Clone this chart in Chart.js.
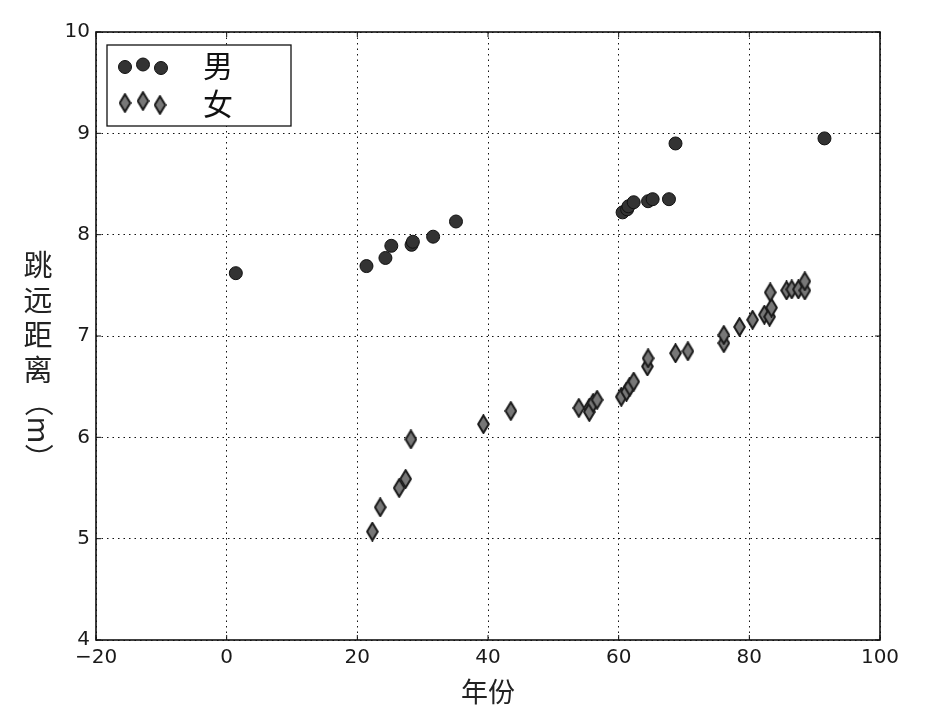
<!DOCTYPE html>
<html>
<head>
<meta charset="utf-8">
<script src="https://cdn.jsdelivr.net/npm/chart.js@4.4.1/dist/chart.umd.min.js"></script>
<style>
  body { margin: 0; background: #fff; }
  #wrap { width: 947px; height: 717px; }
</style>
</head>
<body>
<div id="wrap"><canvas id="chartScatter" width="947" height="717"></canvas></div>
<script>
// data
const menYear = [1.4, 21.4, 24.3, 25.2, 28.3, 28.5, 31.6, 35.1, 60.6, 61.3, 61.5, 62.3, 64.5, 65.2, 67.7, 68.7, 91.5];
const menDist = [7.62, 7.69, 7.77, 7.89, 7.90, 7.93, 7.98, 8.13, 8.22, 8.25, 8.28, 8.32, 8.33, 8.35, 8.35, 8.90, 8.95];

const womenYear = [22.3, 23.5, 26.4, 27.4, 28.2, 39.3, 43.5, 53.9, 55.5, 55.5, 56.1, 56.7, 60.4, 61.2, 61.7, 62.3,
    64.4, 64.5, 68.7, 70.6, 76.1, 76.1, 78.5, 80.5, 82.3, 83.1, 83.4, 83.2, 85.7, 86.5, 87.5, 88.5, 88.5];
const womenDist = [5.07, 5.31, 5.50, 5.59, 5.98, 6.13, 6.26, 6.29, 6.29, 6.25, 6.34, 6.37, 6.40, 6.45, 6.50, 6.55,
    6.70, 6.78, 6.83, 6.85, 6.93, 7.01, 7.09, 7.16, 7.21, 7.19, 7.28, 7.43, 7.45, 7.46, 7.46, 7.45, 7.54];

const xTicks = [-20, 0, 20, 40, 60, 80, 100];
const yTicks = [4, 5, 6, 7, 8, 9, 10];
const seriesNames = ['男', '女'];

const cjkFont = '"Noto Sans CJK SC"';

// thin diamond like matplotlib 'd'
function thinDiamond(w, h) {
    const c = document.createElement('canvas');
    c.width = w; c.height = h;
    const g = c.getContext('2d');
    g.beginPath();
    g.moveTo(w / 2, 1.2);
    g.lineTo(w - 1.2, h / 2);
    g.lineTo(w / 2, h - 1.2);
    g.lineTo(1.2, h / 2);
    g.closePath();
    g.fillStyle = '#777777';
    g.fill();
    g.lineWidth = 2;
    g.strokeStyle = '#1a1a1a';
    g.stroke();
    return c;
}
const diamondImg = thinDiamond(13, 20);

function toPoints(xs, ys) {
    return xs.map((x, i) => ({ x: x, y: ys[i] }));
}

// frame, inward ticks, axis titles and legend
const decor = {
    id: 'decor',
    afterDraw(chart) {
        const ctx = chart.ctx;
        const a = chart.chartArea;
        const sx = chart.scales.x, sy = chart.scales.y;
        ctx.save();
        ctx.strokeStyle = '#111';
        ctx.lineWidth = 1;
        ctx.setLineDash([]);
        xTicks.forEach(v => {
            const p = sx.getPixelForValue(v);
            ctx.beginPath();
            ctx.moveTo(p, a.bottom); ctx.lineTo(p, a.bottom - 5);
            ctx.moveTo(p, a.top); ctx.lineTo(p, a.top + 5);
            ctx.stroke();
        });
        yTicks.forEach(v => {
            const p = sy.getPixelForValue(v);
            ctx.beginPath();
            ctx.moveTo(a.left, p); ctx.lineTo(a.left + 5, p);
            ctx.moveTo(a.right, p); ctx.lineTo(a.right - 5, p);
            ctx.stroke();
        });
        ctx.lineWidth = 1.6;
        ctx.strokeRect(a.left, a.top, a.right - a.left, a.bottom - a.top);

        // x title
        ctx.fillStyle = '#222';
        ctx.font = '27px ' + cjkFont;
        ctx.textAlign = 'center';
        ctx.textBaseline = 'middle';
        ctx.fillText('年份', (a.left + a.right) / 2, 692);

        // y title: stacked characters then rotated (m)
        ctx.font = '29px ' + cjkFont;
        '跳远距离'.split('').forEach((ch, i) => {
            ctx.fillText(ch, 38, 265 + i * 35);
        });
        ctx.save();
        ctx.translate(39, 430);
        ctx.rotate(Math.PI / 2);
        ctx.fillText('（m）', 0, 0);
        ctx.restore();

        // legend box
        ctx.fillStyle = '#fff';
        ctx.fillRect(107, 45, 184, 81);
        ctx.strokeStyle = '#111';
        ctx.lineWidth = 1.3;
        ctx.strokeRect(107, 45, 184, 81);
        const circ = [[125, 67], [143, 64.5], [161, 68]];
        circ.forEach(p => {
            ctx.beginPath();
            ctx.arc(p[0], p[1], 6.5, 0, Math.PI * 2);
            ctx.fillStyle = '#333';
            ctx.fill();
            ctx.strokeStyle = '#111';
            ctx.lineWidth = 1;
            ctx.stroke();
        });
        const dia = [[125, 103], [143, 101], [160, 105]];
        dia.forEach(p => {
            ctx.drawImage(diamondImg, p[0] - 6.5, p[1] - 10);
        });
        ctx.fillStyle = '#111';
        ctx.font = '30px ' + cjkFont;
        ctx.textAlign = 'left';
        ctx.fillText(seriesNames[0], 203, 66);
        ctx.fillText(seriesNames[1], 203, 104);
        ctx.restore();
    }
};

const cvs = document.getElementById('chartScatter');
const chartScatter = new Chart(cvs, {
    type: 'scatter',
    data: {
        datasets: [{
            label: seriesNames[0],
            data: toPoints(menYear, menDist),
            pointStyle: 'circle',
            pointRadius: 6.5,
            pointHoverRadius: 6.5,
            backgroundColor: '#333333',
            borderColor: '#111111',
            borderWidth: 1
        }, {
            label: seriesNames[1],
            data: toPoints(womenYear, womenDist),
            pointStyle: diamondImg,
            pointRadius: 10,
            backgroundColor: '#777777',
            borderColor: '#1a1a1a'
        }]
    },
    plugins: [decor],
    options: {
        responsive: false,
        animation: false,
        devicePixelRatio: 1,
        layout: {
            padding: { left: 0, top: 32, right: 67, bottom: 0 }
        },
        scales: {
            x: {
                type: 'linear',
                min: -20,
                max: 100,
                afterFit: (s) => { s.height = 77; },
                afterBuildTicks: (s) => { s.ticks = xTicks.map(v => ({ value: v })); },
                ticks: {
                    color: '#1a1a1a',
                    font: { family: 'DejaVu Sans', size: 20 },
                    padding: 6,
                    maxRotation: 0,
                    callback: (v) => String(v).replace('-', '\u2212')
                },
                grid: { color: '#111', lineWidth: 1, tickLength: 0, drawTicks: false },
                border: { display: false, dash: [1.5, 4] }
            },
            y: {
                type: 'linear',
                min: 4,
                max: 10,
                afterFit: (s) => { s.width = 96; },
                afterBuildTicks: (s) => { s.ticks = yTicks.map(v => ({ value: v })); },
                ticks: {
                    color: '#1a1a1a',
                    font: { family: 'DejaVu Sans', size: 20 },
                    padding: 6
                },
                grid: { color: '#111', lineWidth: 1, tickLength: 0, drawTicks: false },
                border: { display: false, dash: [1.5, 4] }
            }
        },
        plugins: {
            legend: { display: false },
            tooltip: { enabled: false }
        }
    }
});
</script>
</body>
</html>
